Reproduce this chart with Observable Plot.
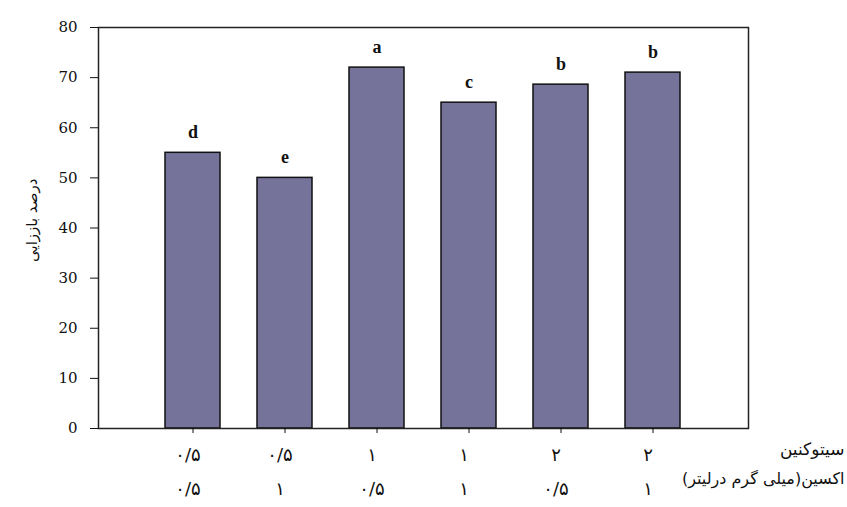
<!DOCTYPE html>
<html>
<head>
<meta charset="utf-8">
<script src="https://cdn.jsdelivr.net/npm/d3@7"></script>
<script src="https://cdn.jsdelivr.net/npm/@observablehq/plot@0.6"></script>
<style>
  html, body { margin: 0; padding: 0; background: #fff; }
  #chart svg { display: block; }
</style>
</head>
<body>
<div id="chart"></div>
<script>
// Data
const treatments = ["T1", "T2", "T3", "T4", "T5", "T6"];
const cytokinin = ["۰/۵", "۰/۵", "۱", "۱", "۲", "۲"];
const auxin = ["۰/۵", "۱", "۰/۵", "۱", "۰/۵", "۱"];
const values = [55, 50, 72, 65, 68.6, 71];
const letters = ["d", "e", "a", "c", "b", "b"];
const yTicks = [0, 10, 20, 30, 40, 50, 60, 70, 80];
const rowTitles = ["سیتوکنین", "اکسین(میلی گرم درلیتر)"];
const yTitle = ["درصد باززایی"];

const data = treatments.map((t, i) => ({
  t, v: values[i], l: letters[i], c: cytokinin[i], a: auxin[i]
}));

const persian = "'DejaVu Sans', sans-serif";

const chart = Plot.plot({
  width: 847,
  height: 507,
  marginLeft: 98,
  marginRight: 99,
  marginTop: 27,
  marginBottom: 79,
  style: { fontFamily: "'Liberation Serif', serif", fontSize: "15px", color: "#111", background: "#fff" },
  x: { domain: treatments, paddingInner: 0.397, paddingOuter: 0.698, axis: null },
  y: { domain: [0, 80], axis: null },
  marks: [
    Plot.barY(data, { x: "t", y: "v", fill: "#75739a", stroke: "#111", strokeWidth: 1.5 }),
    Plot.frame({ stroke: "#222", strokeWidth: 1.5 }),
    Plot.axisY({ ticks: yTicks, tickSize: 8, tickPadding: 13, label: null, fontSize: 15,
                 fontFamily: "'DejaVu Serif', serif", tickFormat: d3.format("d") }),
    Plot.axisX({ tickSize: 5, tickFormat: () => "", label: null }),
    Plot.text(data, { x: "t", y: "v", text: "l", dy: -15, lineAnchor: "bottom", fontWeight: "bold", fontSize: 18 }),
    Plot.text(data, { x: "t", text: "c", frameAnchor: "bottom", dy: 32, dx: -5, fontFamily: persian, fontSize: 18 }),
    Plot.text(data, { x: "t", text: "a", frameAnchor: "bottom", dy: 66, dx: -5, fontFamily: persian, fontSize: 18 }),
    Plot.text([rowTitles[0]], { text: d => d, frameAnchor: "bottom-right", dx: 96, dy: 26, textAnchor: "end", fontFamily: persian, fontSize: 17 }),
    Plot.text([rowTitles[1]], { text: d => d, frameAnchor: "bottom-right", dx: 96, dy: 55, textAnchor: "end", fontFamily: persian, fontSize: 16 }),
    Plot.text(yTitle, { text: d => d, frameAnchor: "left", rotate: -90, dx: -66, dy: 34, fontFamily: persian, fontSize: 15 })
  ]
});

document.getElementById("chart").appendChild(chart);
</script>
</body>
</html>
